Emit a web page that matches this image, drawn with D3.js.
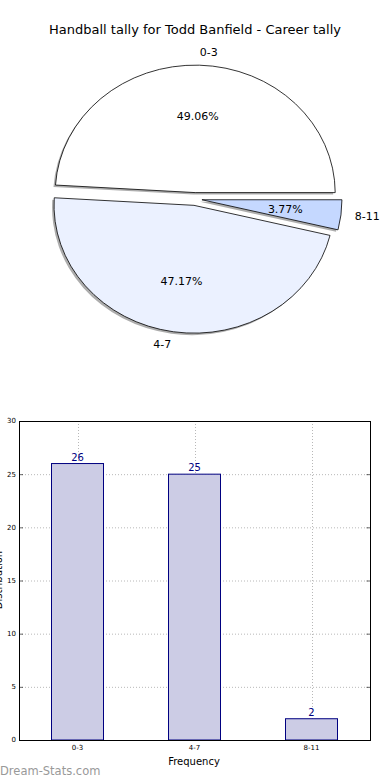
<!DOCTYPE html>
<html>
<head>
<meta charset="utf-8">
<script src="https://cdn.jsdelivr.net/npm/d3@7"></script>
<style>
  body { margin: 0; background: #fff; }
  svg text { font-family: "DejaVu Sans", sans-serif; }
</style>
</head>
<body>
<div id="chart"></div>
<script>
/************************
 *  Data
 ************************/
const categories = ["0-3", "4-7", "8-11"];
const counts = [26, 25, 2];
const pieColors = ["#ffffff", "#ebf1ff", "#c5d8ff"];
const yTicks = [0, 5, 10, 15, 20, 25, 30];

const width = 390, height = 780;
const svg = d3.select("#chart").append("svg")
  .attr("width", width).attr("height", height);

svg.append("text")
  .attr("x", 195).attr("y", 34)
  .attr("text-anchor", "middle")
  .style("font-size", "13px")
  .text("Handball tally for Todd Banfield - Career tally");

/************************
 *  Pie
 ************************/
const cx = 195, cy = 199, rx = 140, ry = 128, explode = 0.05;
const total = d3.sum(counts);

// matplotlib starts at east and goes counter-clockwise
const pie = d3.pie().sort(null)
  .startAngle(Math.PI / 2)
  .endAngle(Math.PI / 2 - 2 * Math.PI);
const arcs = pie(counts);
const arcGen = d3.arc().innerRadius(0).outerRadius(1);

function offsetOf(d, f) {
  const a = (d.startAngle + d.endAngle) / 2;
  return [Math.sin(a) * f * rx, -Math.cos(a) * f * ry];
}

// shadow
const shadow = svg.append("g").attr("transform", "translate(-2,2)");
arcs.forEach(d => {
  const [dx, dy] = offsetOf(d, explode);
  shadow.append("path")
    .attr("transform", `translate(${cx + dx},${cy + dy}) scale(${rx},${ry})`)
    .attr("d", arcGen(d))
    .attr("fill", "#999999")
    .attr("fill-opacity", 0.8);
});

const wedges = svg.append("g");
arcs.forEach((d, i) => {
  const [dx, dy] = offsetOf(d, explode);
  wedges.append("path")
    .attr("transform", `translate(${cx + dx},${cy + dy}) scale(${rx},${ry})`)
    .attr("d", arcGen(d))
    .attr("fill", pieColors[i])
    .attr("stroke", "#000")
    .attr("stroke-width", 0.8)
    .attr("vector-effect", "non-scaling-stroke");

  // category label at 1.1 radius
  const [lx, ly] = offsetOf(d, explode + 1.1);
  wedges.append("text")
    .attr("x", cx + lx).attr("y", cy + ly)
    .attr("dy", "0.35em")
    .attr("text-anchor", lx > 0 ? "start" : "end")
    .style("font-size", "11px")
    .text(categories[i]);

  // percent label at 0.6 radius
  const [px, py] = offsetOf(d, explode + 0.6);
  wedges.append("text")
    .attr("x", cx + px).attr("y", cy + py)
    .attr("dy", "0.35em")
    .attr("text-anchor", "middle")
    .style("font-size", "11px")
    .text((counts[i] / total * 100).toFixed(2) + "%");
});

/************************
 *  Bar chart
 ************************/
const plot = { left: 19, right: 370, top: 421, bottom: 740 };
const x = d3.scaleBand().domain(categories)
  .range([plot.left, plot.right]).paddingInner(0).paddingOuter(0);
const y = d3.scaleLinear().domain([0, 30]).range([plot.bottom, plot.top]);
const barW = 52;

const grid = svg.append("g")
  .attr("stroke", "#b8b8b8").attr("stroke-width", 1)
  .attr("stroke-dasharray", "1,2");
yTicks.forEach(t => {
  grid.append("line")
    .attr("x1", plot.left).attr("x2", plot.right)
    .attr("y1", y(t) + 0.5).attr("y2", y(t) + 0.5);
});
categories.forEach(c => {
  const xc = Math.round(x(c) + x.bandwidth() / 2) + 0.5;
  grid.append("line")
    .attr("x1", xc).attr("x2", xc)
    .attr("y1", plot.top).attr("y2", plot.bottom);
});

svg.append("g").selectAll("rect")
  .data(counts)
  .join("rect")
  .attr("x", (d, i) => x(categories[i]) + x.bandwidth() / 2 - barW / 2)
  .attr("y", d => y(d))
  .attr("width", barW)
  .attr("height", d => plot.bottom - y(d))
  .attr("fill", "#cccce5")
  .attr("stroke", "#000080")
  .attr("stroke-width", 1);

svg.append("g").selectAll("text")
  .data(counts)
  .join("text")
  .attr("x", (d, i) => x(categories[i]) + x.bandwidth() / 2)
  .attr("y", d => y(d) - 3)
  .attr("text-anchor", "middle")
  .attr("fill", "#000080")
  .style("font-size", "10px")
  .text(d => d);

// frame
svg.append("rect")
  .attr("x", plot.left + 0.5).attr("y", plot.top + 0.5)
  .attr("width", plot.right - plot.left).attr("height", plot.bottom - plot.top)
  .attr("fill", "none").attr("stroke", "#000").attr("stroke-width", 1);

// ticks
const ticks = svg.append("g").attr("stroke", "#000").attr("stroke-width", 0.6);
yTicks.forEach(t => {
  ticks.append("line").attr("x1", plot.left).attr("x2", plot.left + 4)
    .attr("y1", y(t) + 0.5).attr("y2", y(t) + 0.5);
  ticks.append("line").attr("x1", plot.right + 0.5).attr("x2", plot.right - 3.5)
    .attr("y1", y(t) + 0.5).attr("y2", y(t) + 0.5);
  svg.append("text")
    .attr("x", plot.left - 3).attr("y", y(t))
    .attr("dy", "0.35em")
    .attr("text-anchor", "end")
    .style("font-size", "7px")
    .text(t);
});
categories.forEach(c => {
  svg.append("text")
    .attr("x", x(c) + x.bandwidth() / 2).attr("y", plot.bottom + 10)
    .attr("text-anchor", "middle")
    .style("font-size", "7px")
    .text(c);
});

svg.append("text")
  .attr("x", 194).attr("y", 765)
  .attr("text-anchor", "middle")
  .style("font-size", "10px")
  .text("Frequency");

// y label sits mostly past the left edge, as in the source image
svg.append("text")
  .attr("transform", "translate(2,580) rotate(-90)")
  .attr("text-anchor", "middle")
  .style("font-size", "10px")
  .text("Distribution");

svg.append("text")
  .attr("x", 0).attr("y", 775)
  .attr("fill", "#999")
  .style("font-size", "11.5px")
  .text("Dream-Stats.com");
</script>
</body>
</html>
